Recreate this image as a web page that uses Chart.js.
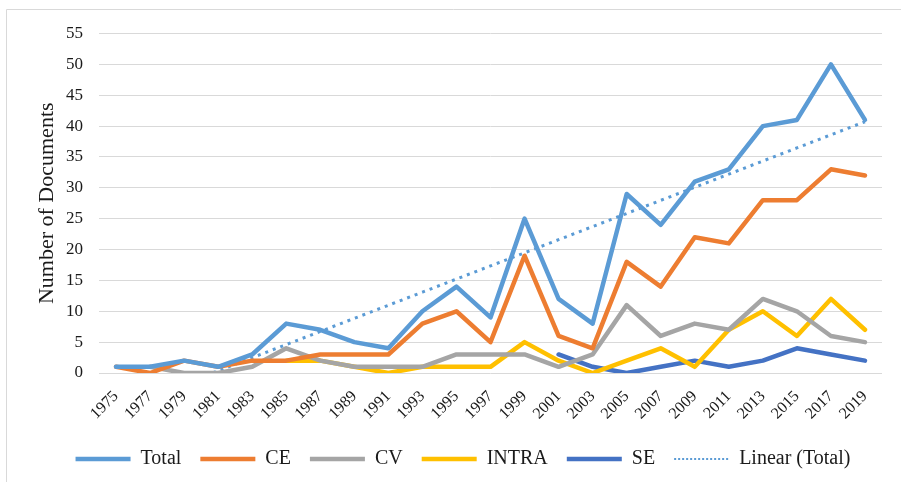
<!DOCTYPE html>
<html>
<head>
<meta charset="utf-8">
<script src="https://cdn.jsdelivr.net/npm/chart.js@4"></script>
<style>
  html, body { margin: 0; padding: 0; background: #fff; }
  #wrap { width: 901px; height: 482px; position: relative; }
</style>
</head>
<body>
<div id="wrap"><canvas id="docsChart"></canvas></div>
<script>
// values
const years = ['1975','1977','1979','1981','1983','1985','1987','1989','1991','1993','1995','1997',
  '1999','2001','2003','2005','2007','2009','2011','2013','2015','2017','2019'];
const total = [1, 1, 2, 1, 3, 8, 7, 5, 4, 10, 14, 9, 25, 12, 8, 29, 24, 31, 33, 40, 41, 50, 41];
const ce    = [1, 0, 2, 1, 2, 2, 3, 3, 3, 8, 10, 5, 19, 6, 4, 18, 14, 22, 21, 28, 28, 33, 32];
const cv    = [null, 1, 0, 0, 1, 4, 2, 1, 1, 1, 3, 3, 3, 1, 3, 11, 6, 8, 7, 12, 10, 6, 5];
const intra = [null, null, null, null, null, 2, 2, 1, 0, 1, 1, 1, 5, 2, 0, 2, 4, 1, 7, 10, 6, 12, 7];
const se    = [null, null, null, null, null, null, null, null, null, null, null, null, null, 3, 1, 0, 1, 2, 1, 2, 4, 3, 2];
const yTicks = [0, 5, 10, 15, 20, 25, 30, 35, 40, 45, 50, 55];

// least squares fit of Total, like Excel's linear trendline
function linearFit(vals) {
  const n = vals.length;
  let sx = 0, sy = 0, sxy = 0, sxx = 0;
  vals.forEach(function (v, i) { sx += i; sy += v; sxy += i * v; sxx += i * i; });
  const slope = (n * sxy - sx * sy) / (n * sxx - sx * sx);
  const icpt = (sy - slope * sx) / n;
  return vals.map(function (v, i) { return icpt + slope * i; });
}
const trend = linearFit(total);

const serif = '"Liberation Serif", "Times New Roman", serif';
Chart.defaults.font.family = serif;
Chart.defaults.color = '#1a1a1a';

// thin frame around the chart (only top/left edges show in the picture)
const framePlugin = {
  id: 'frame',
  beforeDraw: function (chart) {
    const ctx = chart.ctx;
    ctx.save();
    ctx.strokeStyle = '#d9d9d9';
    ctx.lineWidth = 1;
    ctx.beginPath();
    ctx.moveTo(6.5, 482);
    ctx.lineTo(6.5, 9.5);
    ctx.lineTo(901, 9.5);
    ctx.stroke();
    ctx.restore();
  }
};

// move the legend box to where the reference has it
const legendPlace = {
  id: 'legendPlace',
  afterLayout: function (chart) {
    const lg = chart.legend;
    const dx = 463 - (lg.left + lg.right) / 2;
    const dy = 430 - lg.top;
    lg.left += dx; lg.right += dx;
    lg.top += dy; lg.bottom += dy;
  }
};

function series(label, data, color) {
  return {
    label: label,
    data: data,
    borderColor: color,
    backgroundColor: color,
    borderWidth: 4.5,
    pointRadius: 0,
    tension: 0,
    borderJoinStyle: 'round',
    borderCapStyle: 'round'
  };
}

const ctx = document.getElementById('docsChart').getContext('2d');
const docsChart = new Chart(ctx, {
  type: 'line',
  data: {
    labels: years,
    datasets: [
      series('Total', total, '#5B9BD5'),
      series('CE', ce, '#ED7D31'),
      series('CV', cv, '#A5A5A5'),
      series('INTRA', intra, '#FFC000'),
      series('SE', se, '#4472C4'),
      {
        label: 'Linear (Total)',
        data: trend,
        borderColor: '#5B9BD5',
        backgroundColor: '#5B9BD5',
        borderWidth: 3,
        borderDash: [3, 5],
        pointRadius: 0,
        tension: 0,
        clip: { left: false, right: false, top: false, bottom: 0 }
      }
    ]
  },
  options: {
    responsive: true,
    maintainAspectRatio: false,
    animation: false,
    layout: { padding: { top: 33.5, right: 19, left: 0, bottom: 0 } },
    plugins: {
      tooltip: { enabled: false },
      legend: {
        position: 'bottom',
        labels: {
          boxWidth: 55,
          boxHeight: 0,
          padding: 19,
          font: { size: 20 },
          color: '#1a1a1a',
          generateLabels: function (chart) {
            return chart.data.datasets.map(function (ds, i) {
              const dotted = !!ds.borderDash;
              return {
                text: ds.label,
                datasetIndex: i,
                fillStyle: 'rgba(0,0,0,0)',
                strokeStyle: ds.borderColor,
                lineWidth: dotted ? 2 : 4.5,
                lineDash: dotted ? [2, 2] : [],
                lineCap: 'butt',
                fontColor: '#1a1a1a',
                hidden: false
              };
            });
          }
        }
      }
    },
    scales: {
      x: {
        offset: true,
        afterFit: function (scale) { scale.height = 60; },
        grid: { display: false, drawTicks: false },
        border: { display: false },
        ticks: {
          minRotation: 45,
          maxRotation: 45,
          autoSkip: false,
          padding: 14,
          font: { size: 16 }
        }
      },
      y: {
        min: 0,
        max: 55,
        afterBuildTicks: function (scale) {
          scale.ticks = yTicks.map(function (v) { return { value: v }; });
        },
        afterFit: function (scale) { scale.width = 99; },
        grid: { color: '#d9d9d9', lineWidth: 1, drawTicks: false },
        border: { display: false },
        ticks: { padding: 16, font: { size: 17 } },
        title: {
          display: true,
          text: 'Number of Documents',
          font: { size: 22 },
          padding: { top: 34, bottom: 0 }
        }
      }
    }
  },
  plugins: [framePlugin, legendPlace]
});
</script>
</body>
</html>
